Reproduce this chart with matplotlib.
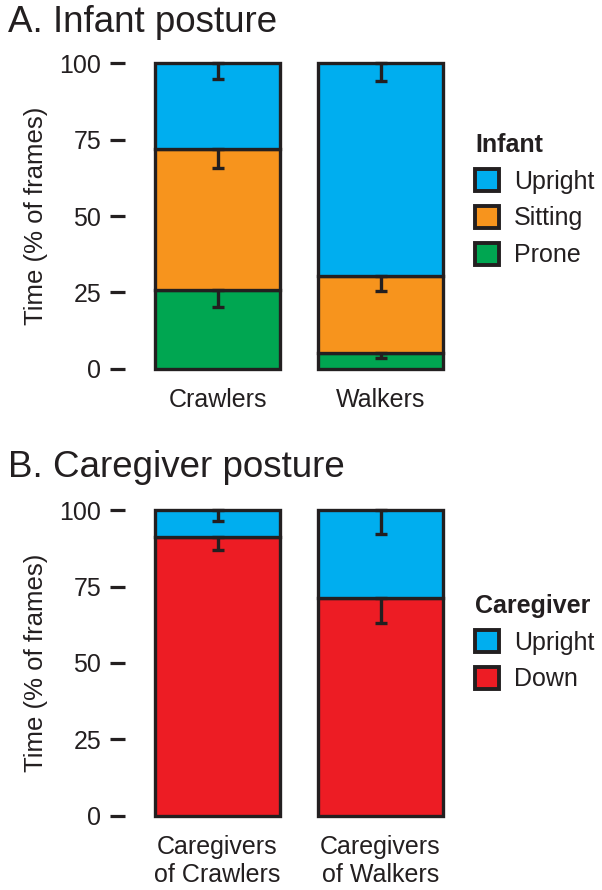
import matplotlib
matplotlib.use("Agg")
import matplotlib.pyplot as plt
from matplotlib.patches import Patch
import numpy as np

plt.rcParams['font.family'] = ['Liberation Sans', 'DejaVu Sans']

# ---- data ----
infant_groups = ["Crawlers", "Walkers"]
infant_postures = ["Prone", "Sitting", "Upright"]          # stacking order bottom->top
infant_prone = [25.8, 5.2]
infant_sitting = [46.1, 25.2]
infant_upright = [28.1, 69.6]
infant_prone_se = [5.5, 1.6]
infant_sitting_se = [6.2, 4.9]
infant_upright_se = [5.2, 5.9]

cg_groups = ["Caregivers\nof Crawlers", "Caregivers\nof Walkers"]
cg_postures = ["Down", "Upright"]
cg_down = [91.2, 71.2]
cg_upright = [8.8, 28.8]
cg_down_se = [4.3, 8.2]
cg_upright_se = [3.6, 7.8]

yticks = [0, 25, 50, 75, 100]

# ---- style ----
C_BLUE = "#00AEEF"
C_ORANGE = "#F7941D"
C_GREEN = "#00A651"
C_RED = "#ED1C24"
DARK = "#231F20"
FS = 18
LW = 2.4

W, H = 602, 890
fig = plt.figure(figsize=(W / 100, H / 100), dpi=100)

def px_axes(left, top, right, bottom):
    return fig.add_axes([left / W, 1 - bottom / H, (right - left) / W, (bottom - top) / H])

def draw_panel(ax, groups, layers, colors, ses, legend_title, legend_labels, legend_colors, legend_anchor_y):
    x = np.arange(1, len(groups) + 1)
    bottom = np.zeros(len(groups))
    tops = []
    for vals, col in zip(layers, colors):
        vals = np.asarray(vals)
        ax.bar(x, vals, width=0.77, bottom=bottom, color=col, edgecolor=DARK,
               linewidth=LW, zorder=2)
        bottom = bottom + vals
        tops.append(bottom.copy())
    for top, se in zip(tops, ses):
        ax.errorbar(x, top, yerr=[np.asarray(se), np.zeros(len(groups))], fmt="none",
                    ecolor=DARK, elinewidth=LW, capsize=4.6, capthick=LW, zorder=3)
    ax.set_xlim(1 - (217.5 - 125) / 163, 2 + (460 - 380.5) / 163)
    ax.set_ylim(-5, 105)
    ax.set_yticks(yticks)
    ax.set_yticklabels([str(t) for t in yticks])
    ax.set_xticks(x)
    ax.set_xticklabels(groups, linespacing=1.22)
    for s in ax.spines.values():
        s.set_visible(False)
    ax.tick_params(axis="y", length=11, width=2.3, color=DARK, labelsize=FS, labelcolor=DARK, pad=6)
    ax.tick_params(axis="x", length=0, labelsize=FS, labelcolor=DARK, pad=3)
    ax.set_ylabel("Time (% of frames)", fontsize=18.5, color=DARK, labelpad=8)
    handles = [Patch(facecolor=c, edgecolor=DARK, linewidth=LW + 0.4) for c in legend_colors]
    leg = ax.legend(handles, legend_labels, title=legend_title, loc="upper left",
                    bbox_to_anchor=(475 / W, 1 - legend_anchor_y / H), bbox_transform=fig.transFigure,
                    frameon=False, fontsize=FS, title_fontsize=FS, handlelength=0.95, handleheight=1.0,
                    handletextpad=0.6, labelspacing=0.48, borderpad=0, borderaxespad=0)
    leg.get_title().set_fontweight("bold")
    leg.get_title().set_color(DARK)
    leg._legend_box.align = "left"
    for t in leg.get_texts():
        t.set_color(DARK)

axA = px_axes(125, 48, 460, 384)
draw_panel(axA, infant_groups, [infant_prone, infant_sitting, infant_upright],
           [C_GREEN, C_ORANGE, C_BLUE], [infant_prone_se, infant_sitting_se, infant_upright_se],
           "Infant", ["Upright", "Sitting", "Prone"], [C_BLUE, C_ORANGE, C_GREEN], 133)
fig.text(8 / W, 1 - 5 / H, "A. Infant posture", fontsize=26.5, color=DARK, ha="left", va="top")

axB = px_axes(125, 495, 460, 831)
draw_panel(axB, cg_groups, [cg_down, cg_upright], [C_RED, C_BLUE],
           [cg_down_se, cg_upright_se], "Caregiver", ["Upright", "Down"], [C_BLUE, C_RED], 594)
fig.text(8 / W, 1 - 450 / H, "B. Caregiver posture", fontsize=26.5, color=DARK, ha="left", va="top")

fig.savefig("out.png", dpi=100)
